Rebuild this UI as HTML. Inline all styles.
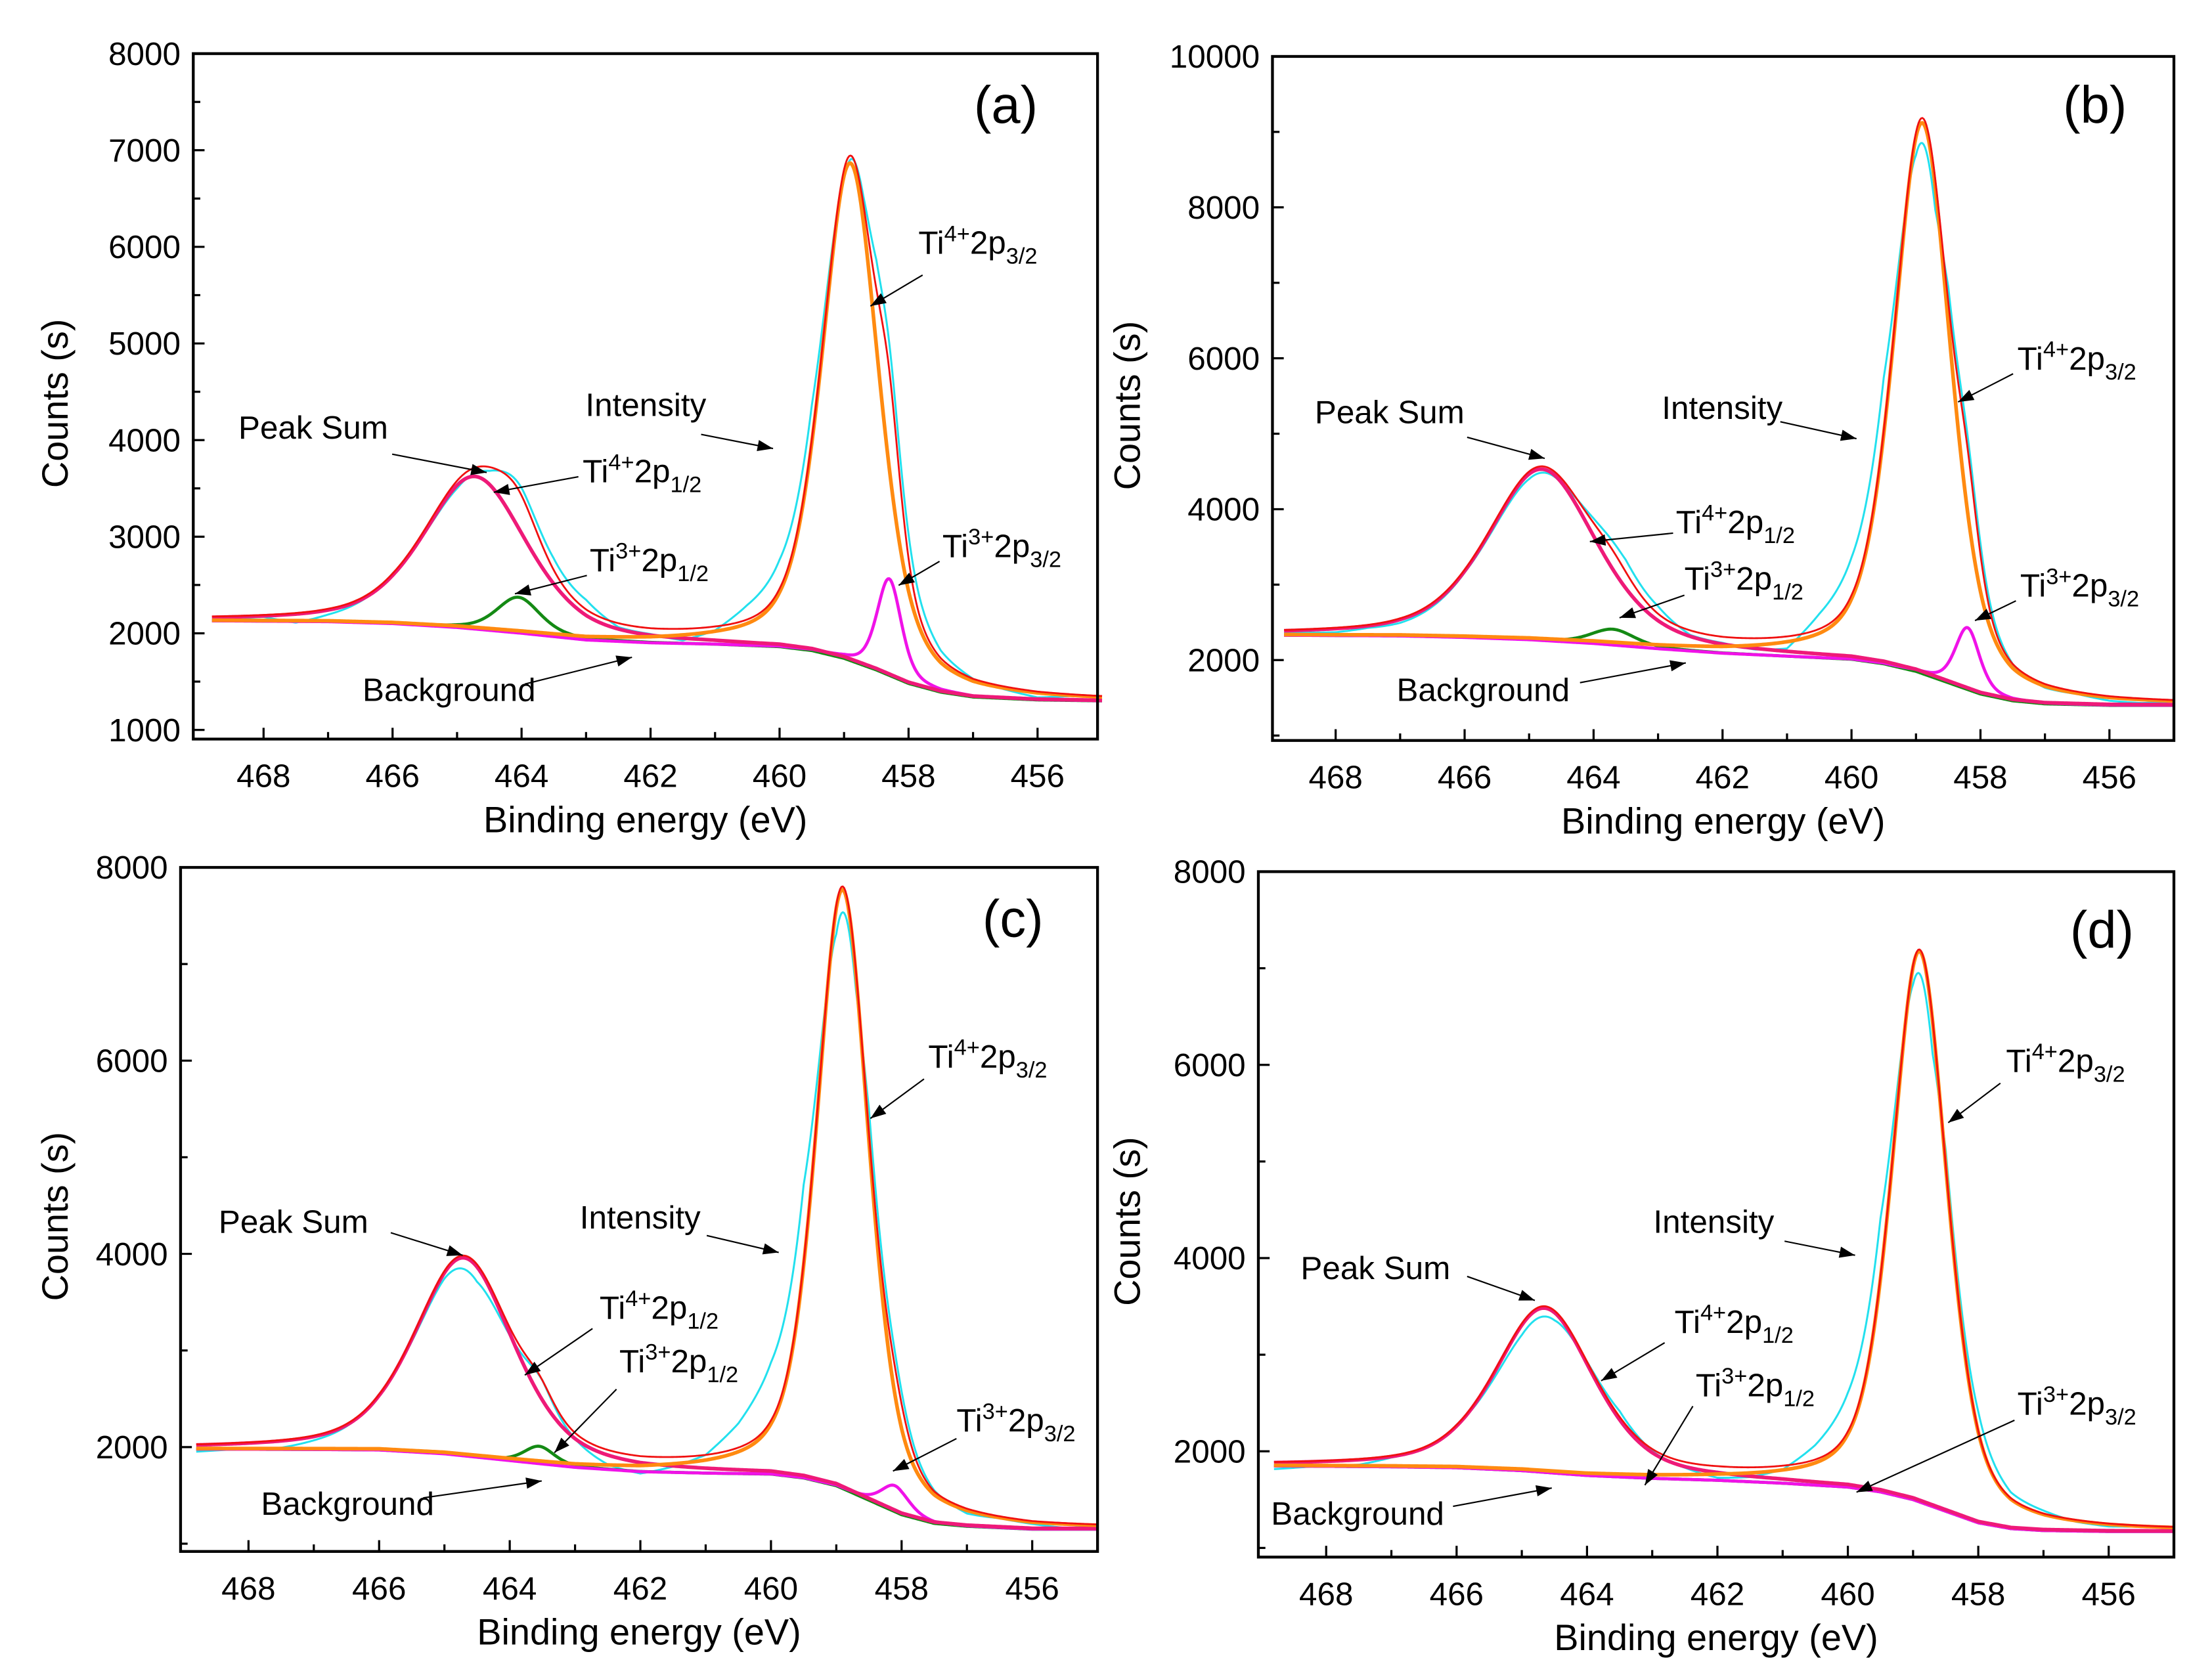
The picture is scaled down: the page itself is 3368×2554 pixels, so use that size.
<!DOCTYPE html>
<html><head><meta charset="utf-8"><style>
html,body{margin:0;padding:0;background:#fff;}
svg{display:block;}
text{font-family:"Liberation Sans",sans-serif;fill:#000;}
</style></head><body>
<svg id="fig" width="3368" height="2554" viewBox="0 0 1568 1189" xmlns="http://www.w3.org/2000/svg">
<rect width="1568" height="1189" fill="#fff"/>
</svg>
<script>
// ---------- data ----------
const bgE = [469, 467, 466, 465, 464, 463, 462, 461, 460, 459.5, 459, 458.5, 458, 457.5, 457, 456, 455];
const bgA = [2130, 2120, 2100, 2060, 2000, 1930, 1900, 1885, 1860, 1820, 1740, 1620, 1480, 1390, 1340, 1310, 1300];
const bgB = [2330, 2320, 2300, 2270, 2220, 2150, 2090, 2050, 2010, 1950, 1850, 1700, 1550, 1460, 1420, 1400, 1400];
const bgC = [1980, 1975, 1970, 1930, 1860, 1790, 1745, 1730, 1720, 1680, 1600, 1450, 1300, 1210, 1180, 1150, 1150];
const bgD = [1850, 1840, 1830, 1800, 1750, 1720, 1700, 1670, 1630, 1580, 1500, 1380, 1260, 1200, 1180, 1170, 1170];

// Peak components: [center eV, height above background, fwhm eV]
const peaksA = {t4_32:[458.9,5150,1.05], t4_12:[464.72,1580,1.9], t3_12:[464.05,370,0.8], t3_32:[458.3,1000,0.45]};
const peaksB = {t4_32:[458.9,7300,1.05], t4_12:[464.8,2270,2.0], t3_12:[463.7,210,0.8], t3_32:[458.2,820,0.45]};
const peaksC = {t4_32:[458.9,6200,0.95], t4_12:[464.7,2050,1.8], t3_12:[463.55,180,0.55], t3_32:[458.1,270,0.5]};
const peaksD = {t4_32:[458.9,5700,1.0], t4_12:[464.65,1700,1.8], t3_12:[463.5,0,0.6], t3_32:[458.2,0,0.5]};

// Intensity residual (measured minus peak sum)
const resE = [469, 468, 467.5, 467, 466, 465, 464.5, 464, 463.5, 463, 462.5, 462, 461.5, 461, 460.5, 460, 459.5, 459, 458.7, 458.5, 458, 457.5, 457, 456.5, 456, 455.5, 455];
const resA = [-30, -20, -100, -60, 0, -80, -40, 80, 120, 100, -40, -60, -120, -40, 150, 300, 350, -100, 80, 300, 250, 80, 0, -30, -60, -20, 0];
const resB = [-30, -60, -40, -60, -40, -100, -60, 60, 160, 100, -60, -80, -150, -160, 200, 500, 700, -300, -400, 200, 150, 0, -50, -30, -60, -60, -20];
const resC = [-80, -60, -80, -50, 0, -80, -180, -80, 0, -60, -150, -180, -100, 0, 250, 600, 800, -300, -200, 250, 130, 10, -50, -20, -30, -50, -20];
const resD = [-80, -50, -60, -20, 0, -120, -100, 0, 60, -20, -60, -120, -100, -40, 150, 400, 600, -200, -350, 150, 200, 60, 30, -20, -30, -10, 0];

const ticksA = [1000,2000,3000,4000,5000,6000,7000,8000];
const ticksB = [2000,4000,6000,8000,10000];
const ticksCD = [2000,4000,6000,8000];
const xTicks = [468,466,464,462,460,458,456];

// ---------- helpers ----------
const NS="http://www.w3.org/2000/svg";
const svg=document.getElementById('fig');
function mk(tag,attrs,parent){const e=document.createElementNS(NS,tag);for(const k in attrs)e.setAttribute(k,attrs[k]);(parent||svg).appendChild(e);return e;}
function interp(xs,ys,x){for(let i=0;i<xs.length-1;i++){if(x<=xs[i]&&x>=xs[i+1]){const t=(x-xs[i])/(xs[i+1]-xs[i]);return ys[i]+t*(ys[i+1]-ys[i]);}}return x>xs[0]?ys[0]:ys[ys.length-1];}
function gl(E,p){const d=(E-p[0])/p[2];return p[1]*(0.55*Math.exp(-4*Math.LN2*d*d)+0.45/(1+4*d*d));}

function panel(cfg){
  const g=mk('g',{});
  
  
  const {x0,x1,y0,y1,eL,eR,cTop,cPer}=cfg;
  const X=e=>x0+(eL-e)/(eL-eR)*(x1-x0);
  const Y=c=>y0+(cTop-c)*cPer;
  function sum(E){let s=0;for(const k in cfg.pk)s+=gl(E,cfg.pk[k]);return s;}
  const comps=[
    {name:'intensity-curve',col:'#22e0ee',w:1.4,f:E=>interp(bgE,cfg.bg,E)+sum(E)+interp(resE,cfg.res,E)},
    {name:'ti3-2p12-curve',col:'#148a14',w:2.2,f:E=>interp(bgE,cfg.bg,E)+gl(E,cfg.pk.t3_12)},
    {name:'ti3-2p32-curve',col:'#f012e8',w:2.2,f:E=>interp(bgE,cfg.bg,E)+gl(E,cfg.pk.t3_32)},
    {name:'ti4-2p12-curve',col:'#ee1a78',w:2.6,f:E=>interp(bgE,cfg.bg,E)+gl(E,cfg.pk.t4_12)},
    {name:'ti4-2p32-curve',col:'#ff8a10',w:2.6,f:E=>interp(bgE,cfg.bg,E)+gl(E,cfg.pk.t4_32)},
    {name:'peak-sum-curve',col:'#f01010',w:1.3,f:E=>interp(bgE,cfg.bg,E)+sum(E)}
  ];
  for(const c of comps){
    let d='';
    for(let E=468.8;E>=455.0-1e-9;E-=0.02){const px=X(E),py=Y(c.f(E));d+=(d?'L':'M')+px.toFixed(2)+' '+py.toFixed(2);}
    const p=mk('path',{d:d,fill:'none',stroke:c.col,'stroke-width':c.w,'stroke-linejoin':'round'},g);
    
    
  }
  const fr=mk('rect',{x:x0,y:y0,width:x1-x0,height:y1-y0,fill:'none',stroke:'#000','stroke-width':2},g);
  
  
  for(let e=468;e>=456;e--){
    const major=e%2===0;
    mk('line',{x1:X(e),x2:X(e),y1:y1,y2:y1-(major?8:5),stroke:'#000','stroke-width':1.5},g);
  }
  for(const e of xTicks){
    const t=mk('text',{x:X(e),y:y1+34,'font-size':23,'text-anchor':'middle'},g);t.textContent=e;
    
    
  }
  const step=cfg.yt[1]-cfg.yt[0];
  for(let v=cfg.yt[0]-step/2;v<=cTop+1;v+=step/2){
    if(Y(v)>y1)continue;
    const major=cfg.yt.includes(v);
    mk('line',{x1:x0,x2:x0+(major?8:5),y1:Y(v),y2:Y(v),stroke:'#000','stroke-width':1.5},g);
  }
  for(const v of cfg.yt){
    const t=mk('text',{x:x0-9,y:Y(v)+8,'font-size':23,'text-anchor':'end'},g);t.textContent=v;
    
    
  }
  const xt=mk('text',{x:(x0+x1)/2,y:y1+66,'font-size':26,'text-anchor':'middle'},g);xt.textContent='Binding energy (eV)';
  
  
  const yc=(y0+y1)/2+5;
  const yt=mk('text',{x:cfg.ytx,y:yc,'font-size':26,'text-anchor':'middle',transform:`rotate(-90 ${cfg.ytx} ${yc})`},g);yt.textContent='Counts (s)';
  
  
  const pl=mk('text',{x:cfg.lab[0],y:cfg.lab[1]+12,'font-size':37,'text-anchor':'middle'},g);pl.textContent=cfg.label;
  
  
  for(const a of cfg.ann){
    const t=mk('text',{x:a[1],y:a[2],'font-size':23},g);
    t.innerHTML=a[0];
    
    
    const [ax1,ay1,ax2,ay2]=a[3];
    mk('line',{x1:ax1,y1:ay1,x2:ax2,y2:ay2,stroke:'#000','stroke-width':1},g);
    const ang=Math.atan2(ay2-ay1,ax2-ax1),L=11,W=4;
    const bx=ax2-L*Math.cos(ang),by=ay2-L*Math.sin(ang);
    const pts=`${ax2},${ay2} ${bx-W*Math.sin(ang)},${by+W*Math.cos(ang)} ${bx+W*Math.sin(ang)},${by-W*Math.cos(ang)}`;
    mk('polygon',{points:pts,fill:'#000'},g);
  }
}
const T4_32='Ti<tspan dy="-9" font-size="16">4+</tspan><tspan dy="9">2p</tspan><tspan dy="7" font-size="16">3/2</tspan>';
const T4_12='Ti<tspan dy="-9" font-size="16">4+</tspan><tspan dy="9">2p</tspan><tspan dy="7" font-size="16">1/2</tspan>';
const T3_32='Ti<tspan dy="-9" font-size="16">3+</tspan><tspan dy="9">2p</tspan><tspan dy="7" font-size="16">3/2</tspan>';
const T3_12='Ti<tspan dy="-9" font-size="16">3+</tspan><tspan dy="9">2p</tspan><tspan dy="7" font-size="16">1/2</tspan>';

panel({name:'panel-a',label:'(a)',lab:[713,75],x0:137,x1:778,y0:38,y1:524,eL:469.09,eR:455.07,cTop:8000,cPer:68.5/1000,yt:ticksA,ytx:48,bg:bgA,pk:peaksA,res:resA,
 ann:[['Peak Sum',169,311,[278,322,345,335]],['Intensity',415,295,[497,308,548,318]],[T4_32,651,180,[654,195,617,217]],[T4_12,413,342,[410,338,350,349]],[T3_12,418,405,[416,408,365,421]],[T3_32,668,395,[666,398,637,415]],['Background',257,497,[372,485,448,466]]]});
panel({name:'panel-b',label:'(b)',lab:[1485,75],x0:902,x1:1541,y0:40,y1:525,eL:468.98,eR:455.0,cTop:10000,cPer:53.5/1000,yt:ticksB,ytx:808,bg:bgB,pk:peaksB,res:resB,
 ann:[['Peak Sum',932,300,[1040,310,1095,325]],['Intensity',1178,297,[1262,299,1316,311]],[T4_32,1430,262,[1427,265,1388,285]],[T4_12,1188,378,[1186,378,1127,384]],[T3_12,1194,418,[1194,422,1148,438]],[T3_32,1432,423,[1429,426,1400,440]],['Background',990,497,[1120,484,1195,470]]]});
panel({name:'panel-c',label:'(c)',lab:[718,652],x0:128,x1:778,y0:615,y1:1100,eL:469.04,eR:455.0,cTop:8000,cPer:68.5/1000,yt:ticksCD,ytx:48,bg:bgC,pk:peaksC,res:resC,
 ann:[['Peak Sum',155,874,[277,874,328,890]],['Intensity',411,871,[501,876,552,888]],[T4_32,658,757,[655,765,617,793]],[T4_12,425,935,[420,942,372,975]],[T3_12,439,973,[437,985,393,1030]],[T3_32,678,1015,[678,1020,633,1043]],['Background',185,1074,[300,1062,384,1050]]]});
panel({name:'panel-d',label:'(d)',lab:[1490,660],x0:892,x1:1541,y0:618,y1:1104,eL:469.04,eR:455.0,cTop:8000,cPer:68.5/1000,yt:ticksCD,ytx:808,bg:bgD,pk:peaksD,res:resD,
 ann:[['Peak Sum',922,907,[1040,905,1088,922]],['Intensity',1172,874,[1265,880,1315,890]],[T4_32,1422,760,[1418,768,1381,796]],[T4_12,1187,945,[1180,952,1135,979]],[T3_12,1202,990,[1200,997,1166,1053]],[T3_32,1430,1003,[1428,1007,1316,1058]],['Background',901,1081,[1030,1068,1100,1055]]]});
</script>
</body></html>
